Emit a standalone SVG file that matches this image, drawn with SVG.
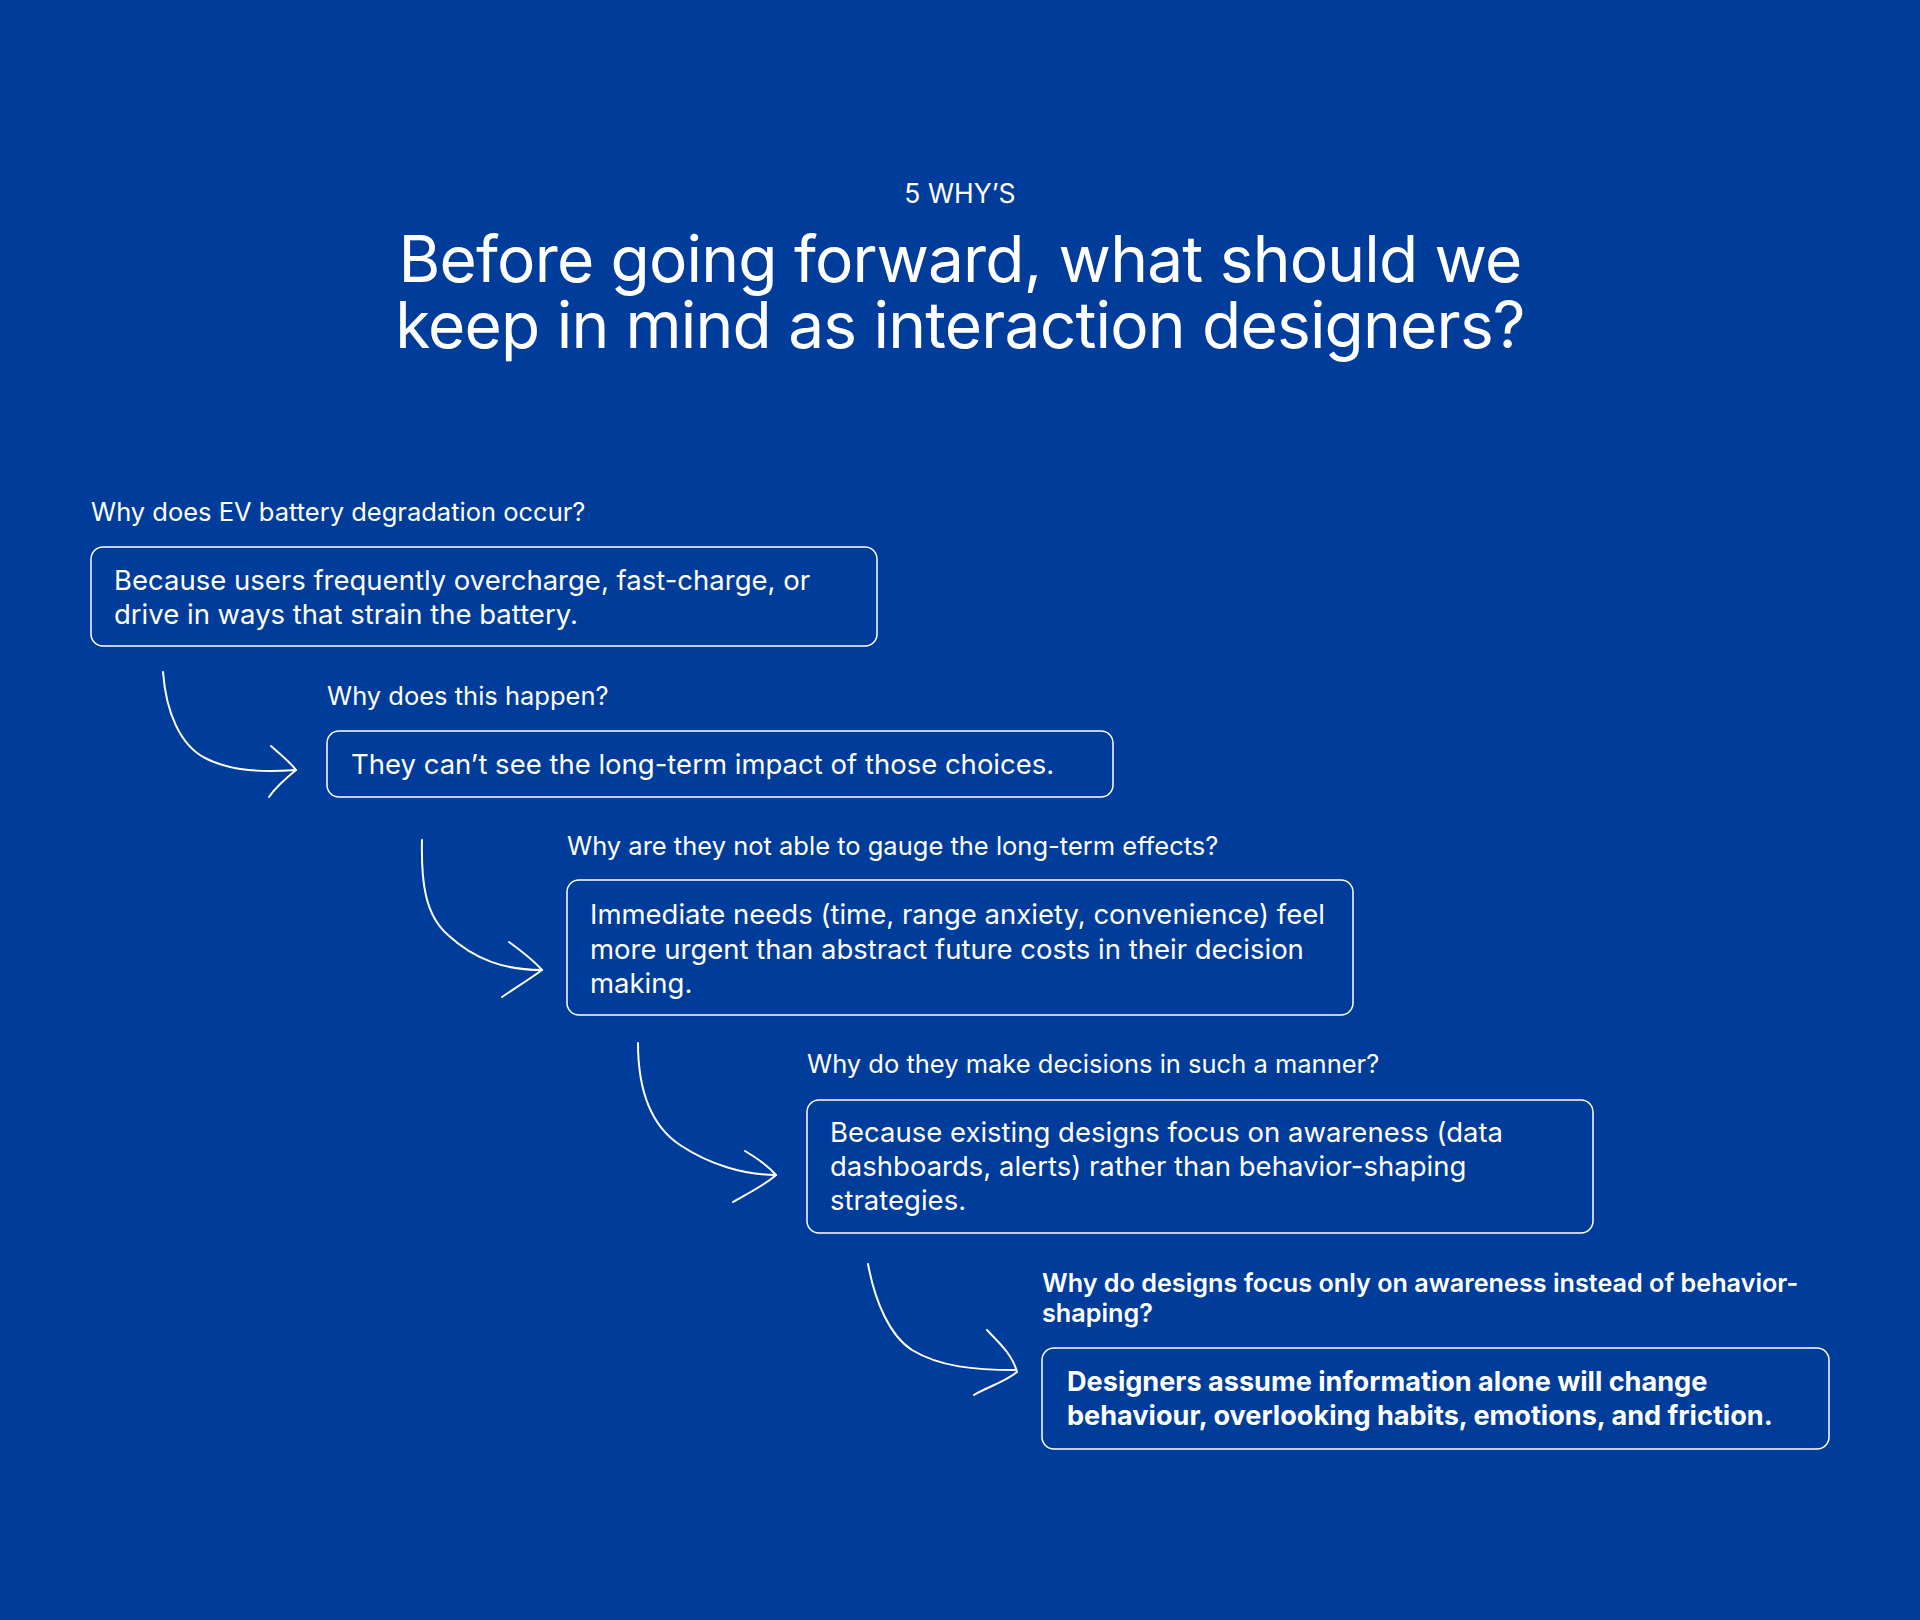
<svg xmlns="http://www.w3.org/2000/svg" width="1920" height="1620" viewBox="0 0 1920 1620">
<style>
text{fill:#ffffff;font-family:Inter,"Noto Sans","Liberation Sans",sans-serif}
.eyebrow{font-size:26.5px;text-anchor:middle}
.title{font-size:64px;text-anchor:middle;letter-spacing:-0.8px}
.q{font-size:25.5px}
.qb{font-size:25.2px;font-weight:600}
.a{font-size:27.5px}
.ab{font-size:27.1px;font-weight:700}
.box{fill:none;stroke:#ffffff;stroke-width:1.5}
.arr{fill:none;stroke:#ffffff;stroke-width:2;stroke-linecap:round;stroke-linejoin:round}
</style>
<rect x="0" y="0" width="1920" height="1620" fill="#003C99"/>
<g id="header">
<text class="eyebrow" x="960" y="203">5 WHY’S</text>
<text class="title" x="960" y="282"><tspan x="960" y="282">Before going forward, what should we</tspan><tspan x="960" y="348">keep in mind as interaction designers?</tspan></text>
</g>
<g id="node1">
<text class="q" x="91" y="521">Why does EV battery degradation occur?</text>
<rect class="box" x="91" y="547" width="786" height="99" rx="12"/>
<text class="a" x="114" y="590">Because users frequently overcharge, fast-charge, or</text>
<text class="a" x="114" y="624">drive in ways that strain the battery.</text>
</g>
<g id="node2">
<text class="q" x="327" y="705">Why does this happen?</text>
<rect class="box" x="327" y="731" width="786" height="66" rx="12"/>
<text class="a" x="351" y="774">They can’t see the long-term impact of those choices.</text>
</g>
<g id="node3">
<text class="q" x="567" y="855">Why are they not able to gauge the long-term effects?</text>
<rect class="box" x="567" y="880" width="786" height="135" rx="12"/>
<text class="a" x="590" y="924">Immediate needs (time, range anxiety, convenience) feel</text>
<text class="a" x="590" y="959">more urgent than abstract future costs in their decision</text>
<text class="a" x="590" y="993">making.</text>
</g>
<g id="node4">
<text class="q" x="807" y="1073">Why do they make decisions in such a manner?</text>
<rect class="box" x="807" y="1100" width="786" height="133" rx="12"/>
<text class="a" x="830" y="1142">Because existing designs focus on awareness (data</text>
<text class="a" x="830" y="1176">dashboards, alerts) rather than behavior-shaping</text>
<text class="a" x="830" y="1210">strategies.</text>
</g>
<g id="node5">
<text class="qb" x="1042" y="1292">Why do designs focus only on awareness instead of behavior-</text>
<text class="qb" x="1042" y="1322">shaping?</text>
<rect class="box" x="1042" y="1348" width="787" height="101" rx="12"/>
<text class="ab" x="1067" y="1391">Designers assume information alone will change</text>
<text class="ab" x="1067" y="1425">behaviour, overlooking habits, emotions, and friction.</text>
</g>
<g id="connectors">
<path class="arr" d="M163,672 C166,712 180,745 205,758 C232,772 265,772 296,770"/>
<path class="arr" d="M271,746 C281,755 291,763 296,770 C285,779 275,788 269,797"/>
<path class="arr" d="M422,840 C421,882 425,915 448,935 C475,960 505,970 542,970"/>
<path class="arr" d="M509,942 C520,950 535,962 542,970 C530,979 512,990 502,997"/>
<path class="arr" d="M638,1043 C638,1090 650,1125 680,1145 C710,1165 745,1175 776,1175"/>
<path class="arr" d="M745,1151 C757,1158 770,1168 776,1175 C765,1185 745,1195 733,1202"/>
<path class="arr" d="M868,1264 C875,1302 890,1336 912,1350 C940,1367 975,1370 1015,1370"/>
<path class="arr" d="M987,1330 C996,1340 1012,1353 1017,1372 C1005,1382 985,1388 974,1395"/>
</g>
</svg>
